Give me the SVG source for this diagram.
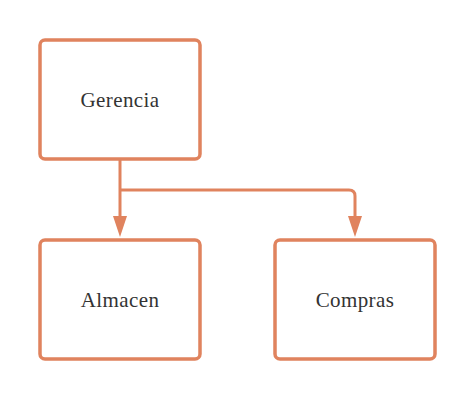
<svg xmlns="http://www.w3.org/2000/svg" width="475" height="400" viewBox="0 0 475 400">
<style>
.box{fill:#fff;stroke:#E0835E;stroke-width:3.5}
.lbl{font-family:"Liberation Serif",serif;font-size:21px;letter-spacing:0.4px;fill:#333;text-anchor:middle}
.edge{fill:none;stroke:#E0835E;stroke-width:3}
.head{fill:#E0835E}
</style>
<rect width="475" height="400" fill="#fff"/>
<g id="edges">
<path class="edge" d="M120,159 V216"/>
<path class="head" d="M113,216 L127,216 L120,237 Z"/>
<path class="edge" d="M120,190 H349 Q355,190 355,196 V216"/>
<path class="head" d="M348,216 L362,216 L355,237 Z"/>
</g>
<g id="gerencia">
<rect class="box" x="40" y="40" width="160" height="119" rx="5"/>
<text class="lbl" x="120" y="106.5">Gerencia</text>
</g>
<g id="almacen">
<rect class="box" x="40" y="240" width="160" height="119" rx="5"/>
<text class="lbl" x="120" y="306.5">Almacen</text>
</g>
<g id="compras">
<rect class="box" x="275" y="240" width="160" height="119" rx="5"/>
<text class="lbl" x="355" y="306.5">Compras</text>
</g>
</svg>
